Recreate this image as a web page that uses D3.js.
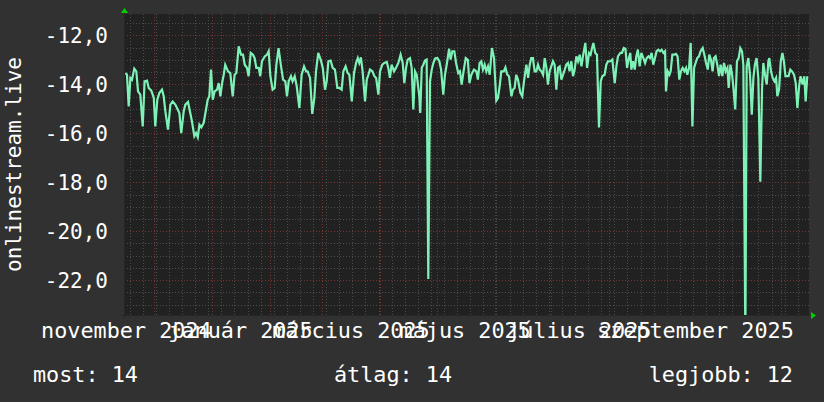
<!DOCTYPE html>
<html>
<head>
<meta charset="utf-8">
<script src="https://cdn.jsdelivr.net/npm/d3@7"></script>
<style>
  html, body { margin: 0; padding: 0; background: #313131; }
  svg { display: block; }
  text { font-family: "DejaVu Sans Mono", monospace; fill: #ffffff; }
</style>
</head>
<body>
<svg id="chart" width="824" height="402"></svg>
<script>
// time span shown and value range of the y axis
const startDate = "2024-11-15";
const endDate = "2025-11-16";
const yDomain = [-23.42, -11.13];

// daily samples: days after startDate, and the value read for that day
const dayOffsets = [
  0.7, 1.6, 2.5, 3.4, 4.3, 5.5, 6.6, 7.5, 8.7, 10.0, 11.0, 12.3, 13.2, 14.6, 15.9, 16.7, 17.8, 18.9, 20.3, 21.2,
  22.1, 23.5, 24.8, 26.0, 27.4, 28.7, 29.6, 30.6, 31.9, 32.8, 34.2, 35.4, 36.3, 37.6, 38.5, 39.4, 40.3, 41.3, 42.6, 43.5,
  44.7, 45.6, 46.5, 47.4, 48.4, 49.7, 50.6, 51.5, 52.4, 53.3, 54.1, 55.6, 56.8, 58.1, 59.1, 60.0, 61.3, 62.5, 63.6, 64.5,
  65.7, 66.6, 67.7, 68.9, 69.8, 70.7, 72.0, 72.8, 73.7, 75.2, 76.4, 77.3, 78.2, 79.4, 80.5, 81.4, 82.6, 83.9, 85.0, 86.2,
  87.1, 88.0, 89.2, 90.1, 91.2, 92.3, 93.7, 94.9, 96.2, 97.3, 98.1, 99.4, 100.6, 101.7, 102.6, 103.8, 105.1, 106.2, 107.4, 108.3,
  109.2, 110.4, 111.5, 112.7, 114.0, 115.1, 116.3, 117.2, 118.4, 119.5, 120.4, 121.7, 122.9, 124.0, 124.9, 125.7, 126.6, 127.5, 128.8, 129.7,
  130.6, 131.4, 132.7, 133.8, 134.7, 135.9, 136.8, 138.0, 139.1, 140.4, 141.2, 142.1, 143.0, 144.3, 145.3, 146.6, 147.8, 148.9, 149.8, 150.7,
  151.6, 152.8, 153.7, 154.6, 155.5, 156.4, 157.8, 158.3, 159.1, 159.9, 160.8, 161.7, 162.6, 163.5, 164.4, 165.3, 166.2, 167.4, 168.5, 169.4,
  170.6, 171.5, 172.4, 173.7, 174.5, 175.4, 176.5, 177.4, 178.6, 179.5, 180.4, 181.3, 182.6, 183.7, 184.6, 185.6, 187.0, 188.3, 189.1, 190.0,
  190.9, 191.8, 192.7, 193.6, 194.5, 195.4, 195.9, 196.6, 197.7, 198.9, 199.8, 200.7, 201.6, 202.9, 203.8, 204.8, 205.7, 207.0, 207.8, 208.7,
  209.6, 210.5, 211.8, 212.8, 213.7, 215.0, 215.9, 216.8, 217.6, 218.5, 219.4, 220.3, 221.2, 222.1, 223.0, 223.9, 224.8, 225.7, 226.5, 227.4,
  228.3, 229.2, 230.1, 231.0, 231.9, 232.8, 233.7, 234.6, 235.5, 236.3, 237.2, 238.1, 239.0, 239.9, 240.8, 241.7, 242.6, 243.5, 244.4, 245.2,
  246.5, 247.4, 248.5, 249.3, 250.1, 250.8, 251.8, 252.7, 253.8, 254.7, 255.6, 256.8, 257.7, 258.6, 259.9, 260.9, 262.2, 263.1, 263.9, 265.2,
  266.1, 267.0, 267.9, 268.8, 269.6, 270.5, 271.1, 272.0, 272.9, 273.7, 274.6, 275.5, 276.4, 277.5, 278.4, 279.3, 280.2, 281.0, 281.9, 282.8,
  283.7, 284.6, 285.5, 286.4, 287.3, 288.2, 289.1, 289.6, 290.5, 291.4, 292.1, 293.0, 293.9, 294.9, 295.8, 296.7, 297.6, 298.5, 299.4, 300.3,
  301.0, 301.9, 302.8, 303.7, 304.6, 305.4, 306.3, 307.2, 308.1, 309.2, 310.1, 311.0, 311.9, 312.7, 313.6, 314.5, 315.2, 316.1, 317.0, 317.9,
  318.8, 319.7, 320.6, 321.5, 322.4, 323.1, 324.0, 324.9, 325.7, 326.6, 327.5, 328.4, 329.3, 330.2, 330.9, 332.0, 332.7, 333.6, 334.5, 335.4,
  336.3, 337.1, 338.0, 338.9, 340.0, 340.9, 341.6, 342.5, 343.4, 344.3, 344.8, 345.7, 346.6, 347.5, 348.4, 349.1, 350.0, 350.9, 351.8, 352.6,
  353.4, 354.2, 355.1, 356.0, 356.9, 358.0, 358.9, 359.8, 360.7, 361.5, 362.6, 363.5, 364.2, 365.1
];
const values = [
  -13.54, -13.61, -14.90, -13.74, -13.81, -13.36, -13.47, -14.29, -14.42, -15.72, -13.88, -13.85, -14.15, -14.26, -14.56, -15.72, -14.63, -14.35, -14.22, -14.49,
  -15.10, -15.85, -14.83, -14.70, -14.83, -15.03, -15.17, -15.99, -15.10, -14.83, -14.72, -15.17, -15.51, -16.12, -15.99, -16.16, -15.65, -15.76, -15.58, -15.17,
  -14.63, -14.49, -13.40, -14.63, -14.29, -14.22, -13.95, -14.49, -13.95, -13.61, -13.20, -13.47, -13.54, -14.49, -13.61, -13.54, -12.45, -12.79, -12.79, -13.20,
  -13.33, -13.67, -12.72, -12.79, -12.93, -13.33, -13.33, -13.67, -13.06, -12.86, -12.79, -12.65, -13.67, -14.22, -14.15, -13.20, -12.52, -13.27, -13.81, -13.88,
  -14.49, -13.88, -13.67, -13.88, -13.67, -14.08, -14.97, -13.61, -13.27, -13.47, -13.47, -13.74, -15.21, -14.56, -13.47, -12.72, -12.99, -13.33, -14.22, -13.88,
  -13.06, -13.03, -13.33, -13.40, -14.15, -14.15, -14.22, -13.47, -13.27, -13.54, -13.61, -14.70, -13.54, -13.13, -12.93, -13.13, -12.90, -13.47, -14.70, -13.81,
  -13.61, -13.40, -13.47, -13.67, -13.74, -14.42, -13.47, -13.20, -13.13, -13.09, -13.33, -13.74, -13.20, -13.47, -13.33, -13.13, -12.79, -13.13, -13.95, -13.33,
  -12.99, -12.93, -13.33, -15.03, -13.47, -13.61, -14.49, -15.17, -13.33, -13.20, -13.03, -12.99, -21.95, -13.88, -13.40, -13.13, -12.95, -12.93, -13.06, -13.40,
  -14.42, -13.61, -13.20, -12.55, -12.99, -12.65, -12.65, -13.13, -13.54, -13.47, -14.01, -13.54, -12.93, -13.00, -13.95, -13.61, -13.40, -13.47, -13.81, -13.13,
  -13.06, -13.40, -13.20, -13.47, -13.27, -13.61, -13.13, -12.52, -12.93, -14.67, -14.56, -14.08, -13.47, -13.47, -13.31, -13.61, -13.67, -14.49, -14.22, -14.15,
  -13.61, -13.81, -14.35, -14.49, -13.88, -13.20, -13.74, -13.20, -12.93, -12.93, -13.47, -13.47, -13.20, -13.40, -13.47, -13.61, -12.93, -13.33, -14.01, -13.47,
  -13.27, -13.06, -13.20, -14.22, -13.33, -13.27, -13.81, -13.61, -13.40, -13.20, -13.13, -13.47, -13.06, -13.67, -13.40, -12.86, -13.06, -12.79, -13.27, -12.86,
  -12.31, -13.33, -12.72, -12.79, -12.52, -12.31, -12.72, -12.79, -15.76, -13.88, -13.67, -13.61, -13.20, -13.06, -13.06, -12.99, -13.95, -13.27, -12.86, -12.72,
  -12.72, -12.52, -12.55, -13.33, -12.99, -12.72, -13.40, -13.06, -13.40, -12.86, -12.58, -13.27, -12.72, -12.93, -13.13, -12.93, -12.86, -12.93, -12.72, -13.20,
  -12.93, -12.65, -12.59, -12.65, -12.59, -12.72, -12.65, -14.29, -13.47, -13.61, -13.47, -12.79, -12.79, -12.76, -12.86, -13.81, -13.47, -13.33, -13.47, -13.33,
  -13.61, -13.33, -12.31, -15.72, -13.33, -13.13, -12.93, -12.86, -12.65, -12.52, -12.79, -13.13, -13.40, -12.79, -12.99, -13.47, -12.93, -12.86, -13.20, -13.67,
  -13.20, -13.67, -13.13, -13.47, -13.33, -14.15, -13.20, -13.61, -14.22, -15.03, -13.06, -12.93, -12.52, -12.65, -13.20, -24.50, -13.27, -12.93, -13.61, -15.24,
  -13.74, -13.20, -12.93, -13.74, -17.98, -14.15, -13.13, -13.61, -14.01, -13.06, -12.93, -13.47, -13.74, -13.88, -13.74, -14.49, -14.22, -13.06, -12.72, -13.06,
  -13.67, -13.67, -13.67, -13.40, -13.47, -13.61, -13.95, -14.97, -14.08, -13.67, -14.01, -13.67, -14.70, -13.67
];

// axis labels
const yTicks = [-22, -20, -18, -16, -14, -12];
const yMinorStep = 0.5;
const monthLabelDates = ["2024-11-01", "2025-01-01", "2025-03-01", "2025-05-01", "2025-07-01", "2025-09-01"];
const monthLabels = ["november 2024", "január 2025", "március 2025", "május 2025", "július 2025", "szeptember 2025"];
const yTitle = "onlinestream.live";
const legendNames = ["most", "átlag", "legjobb"];

const svg = d3.select('#chart');
const W = 824, H = 402;
const pL = 124, pR = 809, pT = 14, pB = 315;
const parse = d3.utcParse('%Y-%m-%d');
const t0 = parse(startDate), t1 = parse(endDate);

const x = d3.scaleUtc().domain([t0, t1]).range([pL, pR]);
const y = d3.scaleLinear().domain(yDomain).range([pB, pT]);

const data = values.map((v, i) => ({ date: d3.utcHour.offset(t0, Math.round(dayOffsets[i] * 24)), value: v }));

const huLocale = d3.formatLocale({ decimal: ",", thousands: " ", grouping: [3], currency: ["", " Ft"], minus: "-" });
const fmt = huLocale.format(".1f");

svg.append('rect').attr('width', W).attr('height', H).attr('fill', '#313131');
svg.append('rect').attr('x', pL).attr('y', pT).attr('width', pR - pL).attr('height', pB - pT).attr('fill', '#212121');

// grid (minor first, major on top)
function grid(g, color) {
    g.select('.domain').remove();
    g.selectAll('.tick line').attr('stroke', color).attr('stroke-width', 1).attr('stroke-dasharray', '1,2').attr('shape-rendering', 'crispEdges');
    g.selectAll('.tick text').remove();
}
const yMinor = d3.range(Math.ceil(yDomain[0] / yMinorStep) * yMinorStep, yDomain[1], yMinorStep).filter(v => !yTicks.includes(v));
svg.append('g').attr('transform', `translate(${pL},0)`)
    .call(d3.axisLeft(y).tickValues(yMinor).tickSize(-(pR - pL)))
    .call(g => grid(g, '#4c4c4c'));
svg.append('g').attr('transform', `translate(0,${pB})`)
    .call(d3.axisBottom(x).tickValues(d3.utcMonday.range(t0, t1)).tickSize(-(pB - pT)))
    .call(g => grid(g, '#4c4c4c'));
svg.append('g').attr('transform', `translate(${pL},0)`)
    .call(d3.axisLeft(y).tickValues(yTicks).tickSize(-(pR - pL)))
    .call(g => grid(g, '#7a3333'));
svg.append('g').attr('transform', `translate(0,${pB})`)
    .call(d3.axisBottom(x).tickValues(d3.utcMonth.range(d3.utcMonth.ceil(t0), t1)).tickSize(-(pB - pT)))
    .call(g => grid(g, '#7a3333'));

// data line
svg.append('clipPath').attr('id', 'plotClip')
    .append('rect').attr('x', pL).attr('y', pT).attr('width', pR - pL).attr('height', pB - pT);
const line = d3.line().x(d => x(d.date)).y(d => y(d.value));
svg.append('path').datum(data)
    .attr('clip-path', 'url(#plotClip)')
    .attr('fill', 'none').attr('stroke', '#7ef2b6').attr('stroke-width', 2.2)
    .attr('stroke-linejoin', 'miter').attr('d', line);

// axis lines and arrows
svg.append('line').attr('x1', pL).attr('x2', pL).attr('y1', pB + 3).attr('y2', pT - 3)
    .attr('stroke', '#262626').attr('shape-rendering', 'crispEdges');
svg.append('line').attr('x1', pL - 3).attr('x2', pR + 3).attr('y1', pB).attr('y2', pB)
    .attr('stroke', '#262626').attr('shape-rendering', 'crispEdges');
svg.append('path').attr('d', `M${pL - 3},${pT - 1}L${pL + 0.5},${pT - 6}L${pL + 4},${pT - 1}Z`).attr('fill', '#00d000');
svg.append('path').attr('d', `M${pR + 2},${pB - 3}L${pR + 7},${pB + 0.5}L${pR + 2},${pB + 4}Z`).attr('fill', '#00d000');

// y labels
svg.append('g').attr('transform', `translate(${pL},0)`)
    .call(d3.axisLeft(y).tickValues(yTicks).tickFormat(fmt).tickSize(0).tickPadding(16))
    .call(g => g.select('.domain').remove())
    .selectAll('text').attr('fill', '#ffffff').style('font-size', '21px').attr('dy', '0.33em');

// x labels, centred mid-month
svg.append('g').attr('transform', `translate(0,${pB})`)
    .call(d3.axisBottom(x)
        .tickValues(monthLabelDates.map(s => d3.utcDay.offset(parse(s), 15)))
        .tickFormat((d, i) => monthLabels[i]).tickSize(0).tickPadding(8))
    .call(g => g.select('.domain').remove())
    .selectAll('text').attr('fill', '#ffffff').style('font-size', '21.8px');

// y title
svg.append('text').attr('transform', `translate(21,${(pT + pB) / 2}) rotate(-90)`)
    .attr('text-anchor', 'middle').style('font-size', '21px').text(yTitle);

// legend
const f0 = d3.format('.0f');
const stats = [values[values.length - 1], d3.mean(values), d3.max(values)].map(v => f0(Math.abs(v)));
const legendX = [33, 334, 793];
const legendAnchor = ['start', 'start', 'end'];
legendNames.forEach((n, i) => {
    svg.append('text').attr('x', legendX[i]).attr('y', 382).attr('text-anchor', legendAnchor[i])
        .style('font-size', '21.8px').text(`${n}: ${stats[i]}`);
});
</script>
</body>
</html>
